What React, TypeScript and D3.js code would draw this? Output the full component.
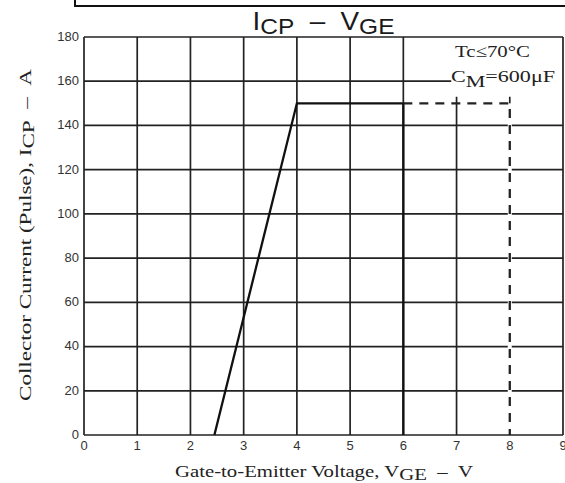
import * as d3 from "d3";

const width = 565;
const height = 483;
const marginTop = 37;
const marginRight = 2;
const marginBottom = 48;
const marginLeft = 84;

const xTicks = [0, 1, 2, 3, 4, 5, 6, 7, 8, 9];
const yTicks = [0, 20, 40, 60, 80, 100, 120, 140, 160, 180];

// solid part of the curve
const solidV = [2.45, 4, 6, 6];
const solidI = [0, 150, 150, 0];
// dashed extension
const dashedV = [6, 8, 8];
const dashedI = [150, 150, 0];

const sans = "'Liberation Sans', Arial, sans-serif";
const serif = "'Liberation Serif', 'Times New Roman', serif";
const gap = "\u00A0\u00A0–\u00A0\u00A0";

const App = () => {
  const x = d3
    .scaleLinear()
    .domain([0, 9])
    .range([marginLeft, width - marginRight]);
  const y = d3
    .scaleLinear()
    .domain([0, 180])
    .range([height - marginBottom, marginTop]);

  const line = d3
    .line<[number, number]>()
    .x((d) => x(d[0]))
    .y((d) => y(d[1]));

  const solid = solidV.map((v, i) => [v, solidI[i]] as [number, number]);
  const dashed = dashedV.map((v, i) => [v, dashedI[i]] as [number, number]);

  // upper-right corner is kept clear for the annotation
  const vTop = (v: number) => (v === 7 || v === 8 ? 153 : 180);
  const hRight = (i: number) => (i === 160 ? 6.9 : 9);

  return (
    <svg
      width={width}
      height={height}
      style={{ position: "absolute", left: 0, top: 0, background: "#fff" }}
    >
      <rect
        x={75}
        y={-20}
        width={520}
        height={26}
        fill="none"
        stroke="#111"
        strokeWidth={2}
      />

      <text
        x={x(4.5)}
        y={30}
        textAnchor="middle"
        fontFamily={sans}
        fontSize={25}
        fill="#1a1a1a"
        textLength={142}
        lengthAdjust="spacingAndGlyphs"
      >
        I<tspan fontSize={22} dy={4}>CP</tspan>
        <tspan dy={-4}>{"\u00A0\u00A0–\u00A0\u00A0V"}</tspan>
        <tspan fontSize={22} dy={4}>GE</tspan>
      </text>

      {/* grid */}
      {xTicks.map((v) => (
        <line
          key={"gx" + v}
          x1={x(v)}
          x2={x(v)}
          y1={y(0)}
          y2={y(vTop(v))}
          stroke="#222"
          strokeWidth={1.7}
        />
      ))}
      {yTicks.map((i) => (
        <line
          key={"gy" + i}
          x1={x(0)}
          x2={x(hRight(i))}
          y1={y(i)}
          y2={y(i)}
          stroke="#222"
          strokeWidth={1.7}
        />
      ))}

      <rect x={x(8) - 2} y={y(150)} width={4} height={y(0) - y(150) - 1} fill="#fff" />

      <path d={line(solid) as string} fill="none" stroke="#111" strokeWidth={2.3} />
      <path
        d={line(dashed) as string}
        fill="none"
        stroke="#222"
        strokeWidth={2.3}
        strokeDasharray="9,7"
      />

      {/* tick labels */}
      {yTicks.map((i) => (
        <text
          key={"ty" + i}
          x={x(0) - 5}
          y={y(i)}
          dy="0.3em"
          textAnchor="end"
          fontFamily={sans}
          fontSize={13}
          fill="#333"
        >
          {i}
        </text>
      ))}
      {xTicks.map((v) => (
        <text
          key={"tx" + v}
          x={x(v)}
          y={y(0) + 15}
          textAnchor="middle"
          fontFamily={sans}
          fontSize={13}
          fill="#333"
        >
          {v}
        </text>
      ))}

      {/* annotation */}
      <text
        x={455}
        y={57}
        fontFamily={serif}
        fontSize={17}
        fill="#222"
        textLength={75}
        lengthAdjust="spacingAndGlyphs"
      >
        Tc≤70°C
      </text>
      <text
        x={451}
        y={82}
        fontFamily={serif}
        fontSize={17}
        fill="#222"
        textLength={104}
        lengthAdjust="spacingAndGlyphs"
      >
        C<tspan dy={5}>M</tspan>
        <tspan dy={-5}>=600μF</tspan>
      </text>

      {/* axis titles */}
      <text
        x={324}
        y={477}
        textAnchor="middle"
        fontFamily={serif}
        fontSize={17}
        fill="#222"
        textLength={298}
        lengthAdjust="spacingAndGlyphs"
      >
        Gate-to-Emitter Voltage, V<tspan dy={3}>GE</tspan>
        <tspan dy={-3}>{gap + "V"}</tspan>
      </text>
      <text
        transform={`translate(31, 235) rotate(-90)`}
        textAnchor="middle"
        fontFamily={serif}
        fontSize={17}
        fill="#222"
        textLength={332}
        lengthAdjust="spacingAndGlyphs"
      >
        Collector Current (Pulse), I<tspan dy={3}>CP</tspan>
        <tspan dy={-3}>{gap + "A"}</tspan>
      </text>
    </svg>
  );
};

export default App;
